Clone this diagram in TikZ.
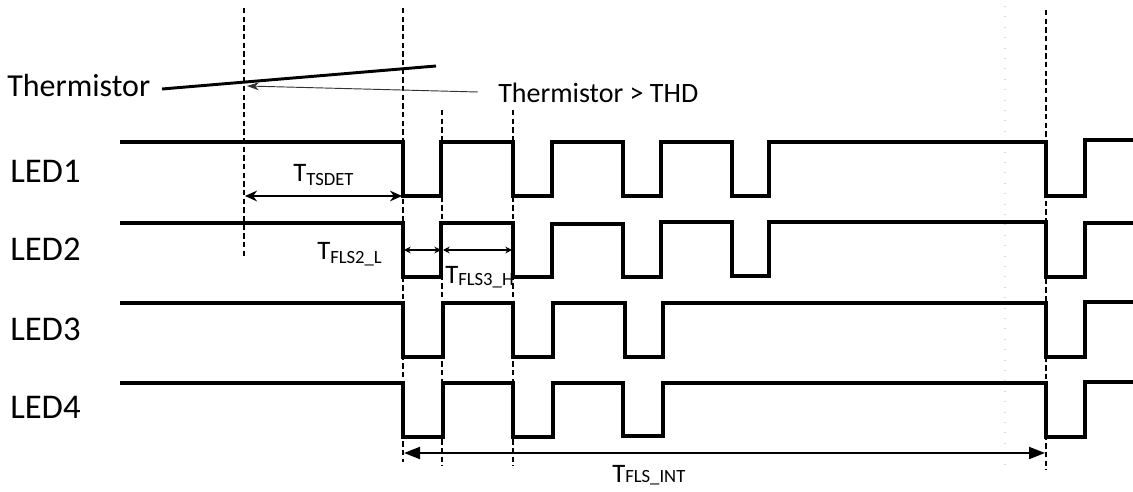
\documentclass[tikz,border=0pt]{standalone}
\usepackage{fontspec}
\setmainfont{Carlito}
\usetikzlibrary{arrows.meta}
\begin{document}
\begin{tikzpicture}[x=0.75pt,y=-0.75pt,
  sig/.style={line width=2.4pt,line join=miter},
  guide/.style={line width=0.8pt,dash pattern=on 4pt off 2.5pt},
  faint/.style={line width=0.8pt,black!15,dash pattern=on 0.8pt off 7pt},
  lbl/.style={inner sep=0pt,anchor=base west,font=\fontsize{26}{30}\selectfont},
  tlbl/.style={inner sep=0pt,anchor=base west,font=\fontsize{20}{24}\selectfont},
  dim/.style={line width=1.6pt,{Stealth[length=9pt,width=8pt]}-{Stealth[length=9pt,width=8pt]}},
  smalldim/.style={line width=1.2pt,{Stealth[length=5pt,width=5pt]}-{Stealth[length=5pt,width=5pt]}},
  bigdim/.style={line width=1.4pt,{Triangle[length=12pt,width=9pt]}-{Triangle[length=12pt,width=9pt]}}
]
\useasboundingbox (0,0) rectangle (1133,492);

% guide lines
\coordinate (g1t) at (244,8);    \coordinate (g1b) at (244,257);
\coordinate (g2t) at (403,8);    \coordinate (g2b) at (403,462);
\coordinate (g3t) at (442,110);  \coordinate (g3b) at (442,466);
\coordinate (g4t) at (513,110);  \coordinate (g4b) at (513,466);
\coordinate (g5t) at (1046,10);  \coordinate (g5b) at (1046,470);
\coordinate (f1t) at (1005,6);   \coordinate (f1b) at (1005,470);
\draw[guide] (g1t) -- (g1b);
\draw[guide] (g2t) -- (g2b);
\draw[guide] (g3t) -- (g3b);
\draw[guide] (g4t) -- (g4b);
\draw[guide] (g5t) -- (g5b);
\draw[faint] (f1t) -- (f1b);

% thermistor
\node[lbl,font=\fontsize{24}{28}\selectfont] (therm) at (7,97) {Thermistor};
\coordinate (ts) at (162,89);
\coordinate (te) at (436,66);
\draw[line width=2.2pt] (ts) -- (te);
\node[lbl,font=\fontsize{21}{26}\selectfont] (thd) at (498,103) {Thermistor > THD};
\coordinate (as) at (478,92);
\coordinate (ae) at (247,86);
\draw[line width=0.7pt,black!80,-{Stealth[length=9pt,width=6pt]}] (as) -- (ae);

% LED labels
\node[lbl] (l1) at (10,182) {LED1};
\node[lbl] (l2) at (10,260) {LED2};
\node[lbl] (l3) at (10,340) {LED3};
\node[lbl] (l4) at (10,418) {LED4};

% waveforms
\draw[sig] (120,142) -- (403,142) -- (403,196) -- (441,196) -- (441,142) -- (513,142) -- (513,196) -- (552,196) -- (552,142) -- (623,142) -- (623,196) -- (661,196) -- (661,142) -- (732,142) -- (732,196) -- (769,196) -- (769,142) -- (1046,142) -- (1046,196) -- (1085,196) -- (1085,140) -- (1133,140);
\draw[sig] (120,223) -- (403,223) -- (403,277) -- (441,277) -- (441,223) -- (513,223) -- (513,277) -- (552,277) -- (552,224) -- (623,224) -- (623,277) -- (661,277) -- (661,222) -- (732,222) -- (732,276) -- (769,276) -- (769,222) -- (1046,222) -- (1046,277) -- (1085,277) -- (1085,223) -- (1133,223);
\draw[sig] (120,303) -- (403,303) -- (403,357) -- (443,357) -- (443,303) -- (513,303) -- (513,357) -- (553,357) -- (553,303) -- (625,303) -- (625,357) -- (663,357) -- (663,303) -- (1046,303) -- (1046,357) -- (1085,357) -- (1085,302) -- (1133,302);
\draw[sig] (120,383) -- (403,383) -- (403,437) -- (443,437) -- (443,383) -- (513,383) -- (513,437) -- (553,437) -- (553,383) -- (623,383) -- (623,436) -- (663,436) -- (663,383) -- (1046,383) -- (1046,437) -- (1085,437) -- (1085,382) -- (1133,382);

% T_TSDET
\coordinate (d1a) at (245,196);
\coordinate (d1b) at (402,196);
\draw[dim] (d1a) -- (d1b);
\node[tlbl] (tsdet) at (293,181) {T\raisebox{-0.35ex}{\fontsize{14}{16}\selectfont TSDET}};

% T_FLS2_L and T_FLS3_H
\coordinate (d2a) at (404,250);
\coordinate (d2b) at (441,250);
\coordinate (d3a) at (443,250);
\coordinate (d3b) at (512,250);
\draw[smalldim] (d2a) -- (d2b);
\draw[smalldim] (d3a) -- (d3b);
\node[tlbl] (fls2) at (317,259) {T\raisebox{-0.35ex}{\fontsize{14}{16}\selectfont FLS2\_L}};
\node[tlbl] (fls3) at (445,283) {T\raisebox{-0.2ex}{\fontsize{14}{16}\selectfont FLS3\_H}};

% T_FLS_INT
\coordinate (d4a) at (404,453);
\coordinate (d4b) at (1045,453);
\draw[bigdim] (d4a) -- (d4b);
\node[tlbl] (flsint) at (612,482) {T{\fontsize{14}{16}\selectfont FLS\_INT}};
\end{tikzpicture}
\end{document}
